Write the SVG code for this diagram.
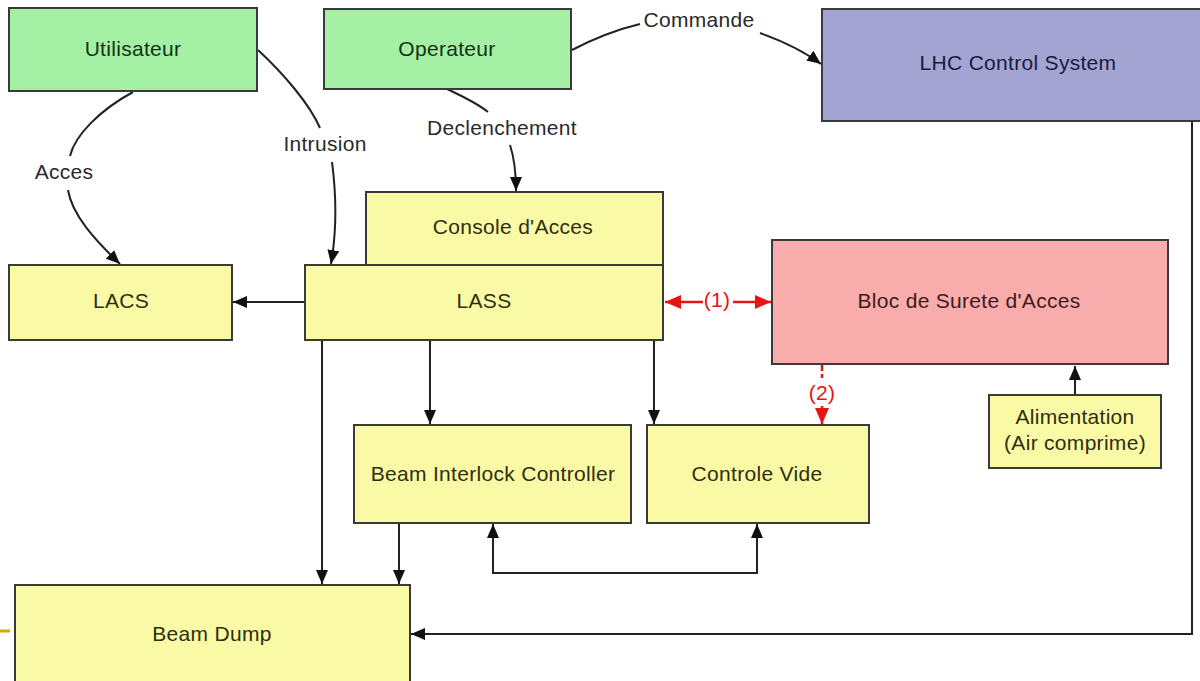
<svg xmlns="http://www.w3.org/2000/svg" width="1200" height="681" viewBox="0 0 1200 681">
<defs>
<style>
.box{stroke:#3a3a3a;stroke-width:2}
.g{fill:#a4f0a4}
.y{fill:#fafaa6}
.p{fill:#f8acac}
.b{fill:#a4a4d2}
text{font-family:"Liberation Sans",Arial,sans-serif;font-size:21px;letter-spacing:0.3px;text-anchor:middle}
.tg{fill:#143014}
.ty{fill:#2e2e10}
.tb{fill:#1a1a40}
.tp{fill:#401a1a}
.lbl{fill:#2a2a2a}
.red{fill:#e81414}
.c{fill:none;stroke:#222;stroke-width:2}
.cr{fill:none;stroke:#e81414;stroke-width:2.5}
</style>
<marker id="a" viewBox="0 0 14 12" refX="14" refY="6" markerWidth="14" markerHeight="12" markerUnits="userSpaceOnUse" orient="auto-start-reverse"><path d="M0,0 L14,6 L0,12 z" fill="#111"/></marker>
<marker id="ar" viewBox="0 0 16 14" refX="16" refY="7" markerWidth="16" markerHeight="14" markerUnits="userSpaceOnUse" orient="auto-start-reverse"><path d="M0,0 L16,7 L0,14 z" fill="#e81414"/></marker>
</defs>
<rect width="1200" height="681" fill="#fff"/>

<g id="connectors">
<path class="c" d="M133,92 C100,110 75,135 70,156"/>
<path class="c" d="M68,190 C72,215 95,240 120,264" marker-end="url(#a)"/>
<path class="c" d="M258,50 C285,75 310,105 320,128"/>
<path class="c" d="M332,162 C337,200 336,235 331,264" marker-end="url(#a)"/>
<path class="c" d="M447,89 C462,96 477,103 488,112"/>
<path class="c" d="M510,145 C515,160 516,175 516,191" marker-end="url(#a)"/>
<path class="c" d="M572,50 C595,38 615,30 640,24"/>
<path class="c" d="M760,33 C785,42 805,52 821,64" marker-end="url(#a)"/>
<path class="c" d="M305,302 H233" marker-end="url(#a)"/>
<path class="cr" d="M703,302 H665" marker-end="url(#ar)"/>
<path class="cr" d="M733,302 H771" marker-end="url(#ar)"/>
<path class="cr" d="M822,365 V378" stroke-dasharray="6,3"/>
<path class="cr" d="M822,406 V424" marker-end="url(#ar)"/>
<path class="c" d="M1075,395 V366" marker-end="url(#a)"/>
<path class="c" d="M430,341 V424" marker-end="url(#a)"/>
<path class="c" d="M654,341 V424" marker-end="url(#a)"/>
<path class="c" d="M322,341 V584" marker-end="url(#a)"/>
<path class="c" d="M399,524 V584" marker-end="url(#a)"/>
<path class="c" d="M493,524 V573 H757 V524" marker-start="url(#a)" marker-end="url(#a)"/>
<path class="c" d="M1192,122 V634 H411" marker-end="url(#a)"/>
<path d="M0,631 H10" stroke="#e0a000" stroke-width="3"/>
<text class="lbl" x="64" y="179">Acces</text>
<text class="lbl" x="325" y="151">Intrusion</text>
<text class="lbl" x="502" y="135">Declenchement</text>
<text class="lbl" x="699" y="27">Commande</text>
<text class="red" x="717" y="307">(1)</text>
<text class="red" x="822" y="400">(2)</text>
</g>

<g id="utilisateur"><rect class="box g" x="9" y="8" width="248" height="83"/><text class="tg" x="133" y="56">Utilisateur</text></g>
<g id="operateur"><rect class="box g" x="324" y="9" width="247" height="80"/><text class="tg" x="447" y="56">Operateur</text></g>
<g id="lhc"><rect class="box b" x="822" y="9" width="390" height="112"/><text class="tb" x="1018" y="70">LHC Control System</text></g>
<g id="console"><rect class="box y" x="366" y="192" width="297" height="73"/><text class="ty" x="513" y="234">Console d'Acces</text></g>
<g id="lass"><rect class="box y" x="305" y="265" width="358" height="75"/><text class="ty" x="484" y="308">LASS</text></g>
<g id="lacs"><rect class="box y" x="9" y="265" width="223" height="75"/><text class="ty" x="121" y="308">LACS</text></g>
<g id="bloc"><rect class="box p" x="772" y="240" width="396" height="124"/><text class="tp" x="969" y="308">Bloc de Surete d'Acces</text></g>
<g id="alimentation"><rect class="box y" x="989" y="395" width="172" height="73"/><text class="ty" x="1075" y="424">Alimentation</text><text class="ty" x="1075" y="450">(Air comprime)</text></g>
<g id="bic"><rect class="box y" x="354" y="425" width="277" height="98"/><text class="ty" x="493" y="481">Beam Interlock Controller</text></g>
<g id="vide"><rect class="box y" x="647" y="425" width="222" height="98"/><text class="ty" x="757" y="481">Controle Vide</text></g>
<g id="beamdump"><rect class="box y" x="15" y="585" width="395" height="110"/><text class="ty" x="212" y="641">Beam Dump</text></g>
</svg>
